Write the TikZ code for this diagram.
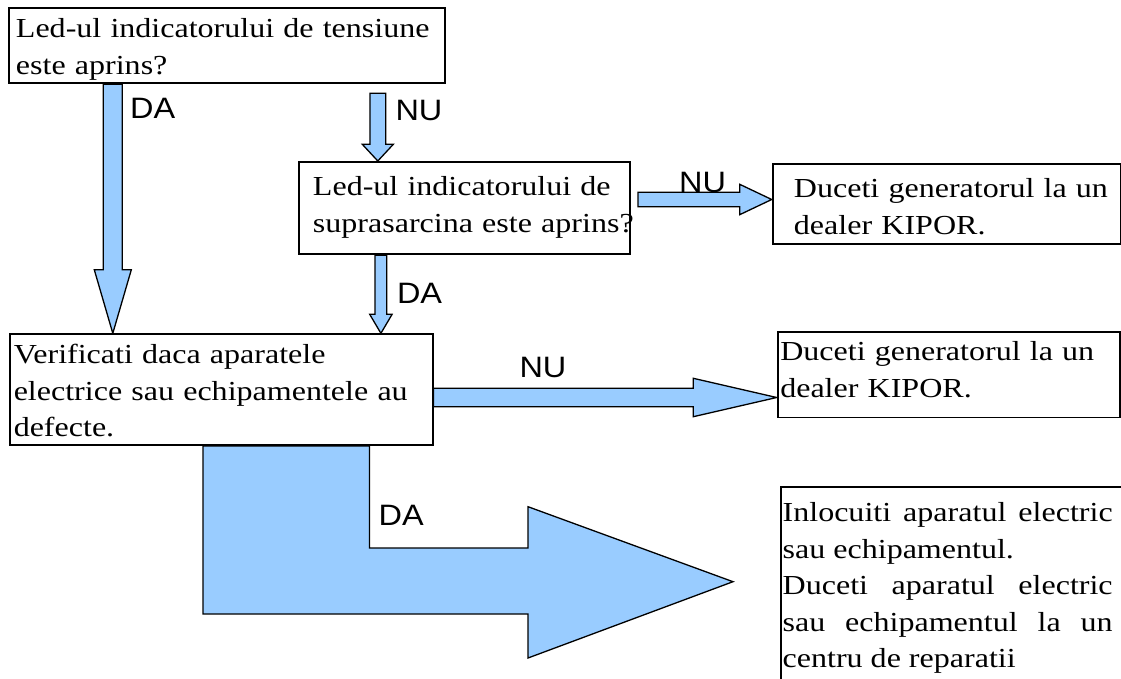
\documentclass[tikz,border=0pt]{standalone}
\usepackage{fontspec}
\setmainfont{Liberation Serif}[FakeStretch=1.165]
\setsansfont{Liberation Sans}[FakeStretch=1.1]
\usetikzlibrary{calc,backgrounds}
\definecolor{arrowblue}{HTML}{99CCFF}
\hyphenpenalty=10000
\exhyphenpenalty=10000
\tikzset{
  box/.style={draw=black, line width=1.9pt, fill=white, anchor=north west,
    inner ysep=0pt, align=left, font=\fontsize{27.5}{36.4}\selectfont},
  boxline/.style={draw=black, line width=1.9pt},
  blockarrow/.style={draw=black, line width=1.3pt, fill=arrowblue, line join=miter},
  lab/.style={anchor=base west, inner sep=0pt, font=\sffamily\fontsize{29.5}{32}\selectfont},
}
\newcommand\vblockarrow[5]{%
  \path[blockarrow] let \p1=(#1), \p2=(#2) in
    (\x1-#3pt,\y1) -- (\x1-#3pt,\y2+#5pt) -- (\x1-#4pt,\y2+#5pt) -- (\x1,\y2)
    -- (\x1+#4pt,\y2+#5pt) -- (\x1+#3pt,\y2+#5pt) -- (\x1+#3pt,\y1) -- cycle;}
\newcommand\hblockarrow[5]{%
  \path[blockarrow] let \p1=(#1), \p2=(#2) in
    (\x1,\y1+#3pt) -- (\x2-#5pt,\y1+#3pt) -- (\x2-#5pt,\y1+#4pt) -- (\x2,\y1)
    -- (\x2-#5pt,\y1-#4pt) -- (\x2-#5pt,\y1-#3pt) -- (\x1,\y1-#3pt) -- cycle;}
\begin{document}
\begin{tikzpicture}[x=1pt,y=-1pt]
\useasboundingbox (0,0) rectangle (1121,679);

% boxes
\node[box, inner xsep=6.7pt, text width=422.6pt, text height=30pt, text depth=45.6pt] (b1) at (8.3,6.7)
  {\mbox{Led-ul indicatorului de tensiune}\\\mbox{este aprins?}};
\node[box, inner xsep=13.7pt, text width=303.3pt, text height=34pt, text depth=58.3pt] (b2) at (298.3,161)
  {\mbox{Led-ul indicatorului de}\\\mbox{suprasarcina este aprins?}};
\node[box, inner xsep=21.3pt, text width=305.2pt, text height=33.4pt, text depth=46.3pt] (b3) at (771.7,163.3)
  {\mbox{Duceti generatorul la un}\\\mbox{dealer KIPOR.}};
\node[box, inner xsep=3.8pt, text width=415pt, text height=29.4pt, text depth=81.3pt] (b4) at (9,333.3)
  {\mbox{Verificati daca aparatele}\\\mbox{electrice sau echipamentele au}\\\mbox{defecte.}};
\node[box, inner xsep=2.6pt, text width=337.4pt, text height=29pt, text depth=56.5pt] (b5) at (776.7,331)
  {\mbox{Duceti generatorul la un}\\\mbox{dealer KIPOR.}};
\node[box, draw=none, align=justify, inner xsep=1pt, text width=330pt, text height=34.3pt, text depth=200pt] (b6) at (780.7,486.7)
  {Inlocuiti aparatul electric\linebreak sau echipamentul.\\Duceti aparatul electric\linebreak sau echipamentul la un\linebreak centru de reparatii};
\draw[boxline] (b6.south west) -- (b6.north west) -- ([xshift=40pt]b6.north east);

% connectors
\begin{pgfonlayer}{background}
\coordinate (c1) at (112.8,0);
\coordinate (a2s) at (377.8,93.3);
\coordinate (a3s) at (638,199.5);
\coordinate (c4) at (380.9,0);
\coordinate (a5) at (0,397.5);
\coordinate (x203) at (203,0);
\coordinate (x369) at (369.4,0);
\vblockarrow{c1 |- b1.south}{c1 |- b4.north}{9.5}{18.5}{63.5}
\vblockarrow{a2s}{a2s |- b2.north}{7.85}{15.5}{16.7}
\hblockarrow{a3s}{b3.west |- a3s}{7.2}{15.2}{32}
\vblockarrow{c4 |- b2.south}{c4 |- b4.north}{5.85}{11.2}{19}
\hblockarrow{b4.east |- a5}{b5.west |- a5}{9.2}{19.2}{83.4}
\path[blockarrow] (x203 |- b4.south) -- (203,614) -- (528,614) -- (528,658) -- (733,581.7)
  -- (528,506.7) -- (528,548) -- (369.4,548) -- (x369 |- b4.south) -- cycle;
\end{pgfonlayer}

% labels
\node[lab] (l1) at (130,119) {DA};
\node[lab] (l2) at (395.3,120.7) {NU};
\node[lab] (l3) at (679,192.3) {NU};
\node[lab] (l4) at (396.8,303.3) {DA};
\node[lab] (l5) at (519.3,377.3) {NU};
\node[lab] (l6) at (378.5,525) {DA};
\end{tikzpicture}
\end{document}
